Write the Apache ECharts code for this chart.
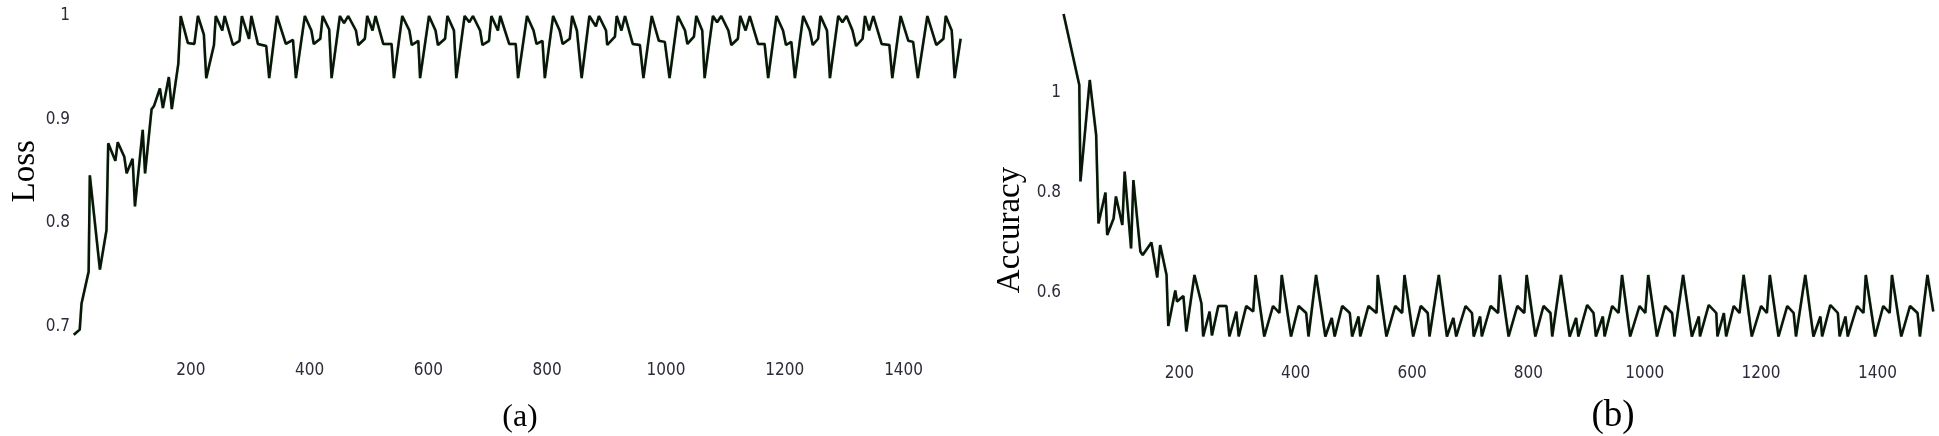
<!DOCTYPE html>
<html>
<head>
<meta charset="utf-8">
<script src="https://cdn.jsdelivr.net/npm/echarts@6/dist/echarts.min.js"></script>
<style>
    html, body { margin: 0; padding: 0; background: #fff; }
    #chart { width: 1939px; height: 436px; }
</style>
</head>
<body>
<div id="chart"></div>
<script>
// (a) Loss curve
const lossSteps = [3, 13, 16, 28, 30, 47, 58, 61, 73, 77, 88, 92, 102, 106, 119, 123, 134, 138, 148, 153,
    163, 168, 179, 183, 195, 206, 212, 222, 226, 239, 242, 253, 257, 271, 282, 286, 298, 302, 313, 327,
    332, 345, 360, 372, 377, 392, 403, 407, 418, 422, 433, 437, 451, 458, 465, 478, 482, 493, 497, 506,
    511, 524, 538, 542, 556, 568, 572, 583, 586, 601, 612, 616, 628, 632, 643, 647, 661, 669, 675, 687,
    691, 702, 706, 717, 721, 736, 747, 751, 766, 777, 782, 792, 796, 810, 821, 826, 838, 842, 850, 858,
    871, 882, 887, 899, 901, 914, 917, 925, 931, 944, 956, 962, 976, 988, 998, 1006, 1020, 1032, 1036, 1047,
    1051, 1061, 1065, 1079, 1086, 1093, 1105, 1110, 1121, 1125, 1134, 1141, 1155, 1166, 1172, 1186, 1197, 1202, 1211, 1217,
    1231, 1242, 1247, 1256, 1260, 1271, 1276, 1290, 1297, 1304, 1314, 1320, 1331, 1335, 1342, 1349, 1363, 1376, 1381, 1395,
    1408, 1416, 1424, 1440, 1455, 1467, 1471, 1481, 1486, 1496]
const lossValues = [0.692, 0.697, 0.722, 0.753, 0.846, 0.755, 0.793, 0.877, 0.860, 0.878, 0.864, 0.848, 0.862, 0.816, 0.890, 0.848, 0.910, 0.913, 0.930, 0.911,
    0.941, 0.910, 0.954, 1.0, 0.974, 0.973, 1.0, 0.982, 0.94, 0.972, 1.0, 0.986, 1.0, 0.972, 0.976, 1.0, 0.978, 1.0, 0.973, 0.971,
    0.94, 1.0, 0.973, 0.977, 0.94, 1.0, 0.986, 0.973, 0.978, 1.0, 0.987, 0.94, 1.0, 0.993, 1.0, 0.986, 0.972, 0.978, 1.0, 0.986,
    1.0, 0.973, 0.973, 0.94, 1.0, 0.986, 0.972, 0.976, 0.94, 1.0, 0.986, 0.972, 0.978, 1.0, 0.986, 0.94, 1.0, 0.994, 1.0, 0.986,
    0.972, 0.976, 1.0, 0.986, 1.0, 0.973, 0.973, 0.94, 1.0, 0.986, 0.973, 0.976, 0.94, 1.0, 0.986, 0.973, 0.978, 1.0, 0.986, 0.94,
    1.0, 0.99, 1.0, 0.986, 0.972, 0.98, 1.0, 0.986, 1.0, 0.973, 0.972, 0.94, 1.0, 0.976, 0.975, 0.94, 1.0, 0.986, 0.973, 0.98,
    1.0, 0.986, 0.94, 1.0, 0.994, 1.0, 0.986, 0.972, 0.978, 1.0, 0.986, 1.0, 0.973, 0.973, 0.94, 1.0, 0.986, 0.972, 0.975, 0.94,
    1.0, 0.986, 0.972, 0.978, 1.0, 0.986, 0.94, 1.0, 0.994, 1.0, 0.986, 0.971, 0.978, 1.0, 0.986, 1.0, 0.973, 0.972, 0.94, 1.0,
    0.976, 0.975, 0.94, 1.0, 0.972, 0.978, 1.0, 0.986, 0.94, 0.978]

// (b) Accuracy curve
const accSteps = [1, 28, 30, 46, 57, 61, 73, 76, 87, 91, 102, 106, 117, 121, 133, 137, 152, 162, 167, 178,
    181, 193, 196, 207, 212, 226, 238, 241, 252, 256, 267, 281, 286, 298, 302, 315, 327, 331, 346, 361,
    372, 376, 392, 405, 418, 422, 435, 451, 462, 467, 480, 493, 497, 508, 511, 525, 539, 541, 556, 571,
    583, 587, 602, 615, 627, 630, 646, 660, 671, 676, 692, 703, 706, 717, 720, 735, 748, 751, 766, 781,
    793, 797, 812, 826, 838, 841, 856, 871, 882, 886, 901, 912, 916, 928, 931, 944, 955, 961, 975, 991,
    1001, 1006, 1021, 1035, 1047, 1051, 1066, 1081, 1093, 1095, 1110, 1123, 1125, 1136, 1140, 1153, 1163, 1170, 1184, 1200,
    1210, 1215, 1230, 1245, 1256, 1260, 1276, 1290, 1302, 1305, 1319, 1332, 1335, 1345, 1349, 1365, 1376, 1380, 1396, 1410,
    1421, 1425, 1441, 1456, 1469, 1473, 1486, 1496]
const accValues = [1.158, 1.016, 0.823, 1.026, 0.916, 0.739, 0.801, 0.716, 0.749, 0.793, 0.736, 0.843, 0.689, 0.826, 0.683, 0.676, 0.701, 0.631, 0.696, 0.636,
    0.534, 0.605, 0.583, 0.594, 0.523, 0.636, 0.579, 0.513, 0.563, 0.515, 0.574, 0.574, 0.513, 0.563, 0.513, 0.574, 0.563, 0.636, 0.513, 0.574,
    0.560, 0.636, 0.513, 0.574, 0.560, 0.513, 0.636, 0.513, 0.55, 0.513, 0.574, 0.560, 0.513, 0.553, 0.513, 0.574, 0.560, 0.636, 0.513, 0.574,
    0.560, 0.636, 0.513, 0.574, 0.560, 0.513, 0.636, 0.513, 0.55, 0.513, 0.574, 0.560, 0.513, 0.553, 0.513, 0.574, 0.560, 0.636, 0.513, 0.574,
    0.56, 0.636, 0.513, 0.574, 0.56, 0.513, 0.636, 0.513, 0.55, 0.513, 0.576, 0.56, 0.513, 0.553, 0.513, 0.574, 0.56, 0.636, 0.513, 0.574,
    0.56, 0.636, 0.513, 0.574, 0.56, 0.513, 0.636, 0.513, 0.553, 0.513, 0.576, 0.56, 0.513, 0.56, 0.513, 0.574, 0.56, 0.636, 0.513, 0.574,
    0.56, 0.636, 0.513, 0.574, 0.56, 0.513, 0.636, 0.513, 0.553, 0.513, 0.576, 0.56, 0.513, 0.553, 0.513, 0.574, 0.56, 0.636, 0.513, 0.574,
    0.56, 0.636, 0.513, 0.574, 0.56, 0.513, 0.636, 0.563]

const xTickLabels = [200, 400, 600, 800, 1000, 1200, 1400]

const tickFont = '"Liberation Sans Narrow", "DejaVu Sans Condensed", "Liberation Sans", sans-serif'
const serifFont = '"Liberation Serif", "DejaVu Serif", serif'
const tickColor = '#2b2b3a'
const lineColor = '#0b140b'

function pairs(xs, ys) {
    return xs.map((x, i) => [x, ys[i]])
}

function xAxisOpt(gridIndex, margin) {
    return {
        type: 'value',
        gridIndex,
        min: 0,
        max: 1500,
        interval: 200,
        axisLine: { show: false },
        axisTick: { show: false },
        splitLine: { show: false },
        axisLabel: {
            margin,
            color: tickColor,
            fontFamily: tickFont,
            fontSize: 17,
            formatter: v => (xTickLabels.indexOf(v) >= 0 ? String(v) : '')
        }
    }
}

function yAxisOpt(gridIndex, min, max, interval, name, nameGap, namePadding) {
    return {
        type: 'value',
        gridIndex,
        min,
        max,
        interval,
        name,
        nameLocation: 'middle',
        nameRotate: 90,
        nameGap,
        nameTextStyle: {
            fontFamily: serifFont,
            fontSize: 33,
            color: '#000',
            padding: namePadding
        },
        axisLine: { show: false },
        axisTick: { show: false },
        splitLine: { show: false },
        axisLabel: {
            margin: 2,
            color: tickColor,
            fontFamily: tickFont,
            fontSize: 17
        }
    }
}

function lineSeries(idx, data) {
    return {
        type: 'line',
        xAxisIndex: idx,
        yAxisIndex: idx,
        data,
        clip: false,
        showSymbol: false,
        symbol: 'none',
        lineStyle: {
            color: lineColor,
            width: 2.5,
            shadowColor: 'rgba(40,150,40,0.5)',
            shadowBlur: 1
        }
    }
}

const chart = echarts.init(document.getElementById('chart'), null, { renderer: 'canvas' })
chart.setOption({
    animation: false,
    backgroundColor: '#fff',
    grid: [
        { left: 72, top: 16, width: 891, height: 310.5 },
        { left: 1063, top: 93, width: 872.6, height: 200 }
    ],
    xAxis: [xAxisOpt(0, 36), xAxisOpt(1, 72)],
    yAxis: [
        yAxisOpt(0, 0.7, 1, 0.1, 'Loss', 30, 0),
        // the Accuracy title sits lower than the middle of its axis
        yAxisOpt(1, 0.6, 1, 0.2, 'Accuracy', 36, [0, 74, 0, 0])
    ],
    graphic: [
        {
            type: 'text',
            x: 520,
            y: 418,
            style: { text: '(a)', fontFamily: serifFont, fontSize: 32, fill: '#000', align: 'center', verticalAlign: 'middle' }
        },
        {
            type: 'text',
            x: 1613,
            y: 416,
            style: { text: '(b)', fontFamily: serifFont, fontSize: 37, fill: '#000', align: 'center', verticalAlign: 'middle' }
        }
    ],
    series: [
        lineSeries(0, pairs(lossSteps, lossValues)),
        lineSeries(1, pairs(accSteps, accValues))
    ]
})
</script>
</body>
</html>
